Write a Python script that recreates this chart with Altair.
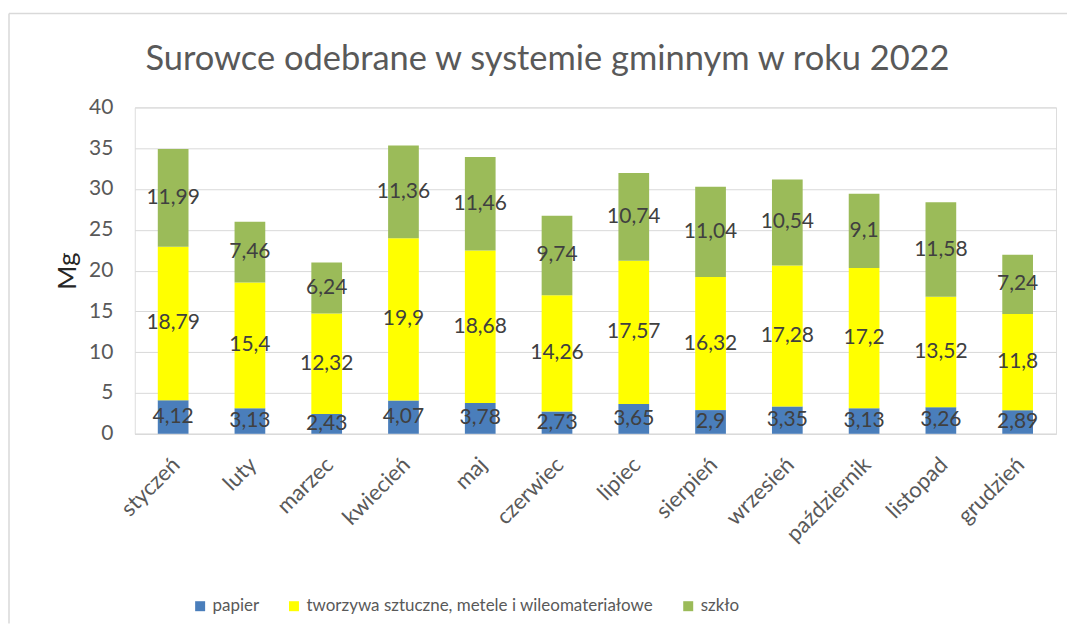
import altair as alt
import pandas as pd

months = ["styczeń", "luty", "marzec", "kwiecień", "maj", "czerwiec", "lipiec",
          "sierpień", "wrzesień", "październik", "listopad", "grudzień"]
series = ["papier", "tworzywa sztuczne, metele i wileomateriałowe", "szkło"]
papier = [4.12, 3.13, 2.43, 4.07, 3.78, 2.73, 3.65, 2.9, 3.35, 3.13, 3.26, 2.89]
tworzywa = [18.79, 15.4, 12.32, 19.9, 18.68, 14.26, 17.57, 16.32, 17.28, 17.2, 13.52, 11.8]
szklo = [11.99, 7.46, 6.24, 11.36, 11.46, 9.74, 10.74, 11.04, 10.54, 9.1, 11.58, 7.24]
colors = ["#4A7EBB", "#FFFF00", "#9BBB59"]
y_ticks = [0, 5, 10, 15, 20, 25, 30, 35, 40]

rows = []
for si, (name, vals) in enumerate(zip(series, [papier, tworzywa, szklo])):
    for m, v in zip(months, vals):
        rows.append({"month": m, "series": name, "order": si, "value": v})
df = pd.DataFrame(rows)

FONT = "Lato"
GRID = "#d9d9d9"

base = alt.Chart(df).transform_stack(
    stack="value", groupby=["month"], as_=["v0", "v1"],
    sort=[alt.SortField("order", order="ascending")]
).transform_calculate(
    mid="(datum.v0 + datum.v1) / 2",
    label="replace(toString(datum.value), '.', ',')"
)

x_enc = alt.X(
    "month:N", sort=months,
    scale=alt.Scale(paddingInner=0.6, paddingOuter=0.3),
    axis=alt.Axis(title=None, labelAngle=-45, ticks=False, domainColor=GRID,
                  labelFontSize=22, labelColor="#595959", labelFont=FONT,
                  labelPadding=20, labelOffset=-4, grid=False)
)
y_scale = alt.Scale(domain=[0, 40], nice=False)

bars = base.mark_bar().encode(
    x=x_enc,
    y=alt.Y("v0:Q", scale=y_scale,
            axis=alt.Axis(values=y_ticks, domain=False, ticks=False,
                          labelFontSize=21, labelColor="#595959", labelFont=FONT,
                          labelPadding=22, grid=True, gridColor=GRID,
                          title="Mg", titleFontSize=26, titleColor="#262626",
                          titleFont=FONT, titleFontWeight="normal",
                          titleX=-67, titleY=163.5, titleAlign="center",
                          titleBaseline="middle")),
    y2="v1:Q",
    color=alt.Color("series:N", scale=alt.Scale(domain=series, range=colors),
                    legend=alt.Legend(title=None, orient="none", legendX=57, legendY=491,
                                      direction="horizontal", symbolType="square",
                                      symbolSize=100, symbolStrokeWidth=0,
                                      labelFontSize=17, labelColor="#595959",
                                      labelFont=FONT, labelLimit=800, labelOffset=4,
                                      columnPadding=26, padding=0)),
    order=alt.Order("order:Q")
)

labels = base.mark_text(font=FONT, fontSize=21, color="#404040", baseline="middle").encode(
    x=alt.X("month:N", sort=months),
    y=alt.Y("mid:Q", scale=y_scale),
    text="label:N"
)

one = alt.Data(values=[{"k": 1}])
frame_top = alt.Chart(one).mark_rule(color=GRID, strokeWidth=1.5).encode(
    x=alt.value(-126), x2=alt.value(934), y=alt.value(-94)
)
frame_left = alt.Chart(one).mark_rule(color=GRID, strokeWidth=1.5).encode(
    x=alt.value(-126), y=alt.value(-94), y2=alt.value(517)
)

chart = alt.layer(bars, labels, frame_top, frame_left).properties(
    width=923, height=327,
    padding={"left": 0, "top": 4, "right": 0, "bottom": 0},
    title=alt.Title("Surowce odebrane w systemie gminnym w roku 2022",
                    font=FONT, fontSize=34.5, fontWeight="normal", color="#595959",
                    anchor="middle", dx=-48, offset=-92, baseline="alphabetic")
).configure_view(stroke=None).configure(background="white")

chart.save("out.html", embed_options={"renderer": "svg", "actions": False})
